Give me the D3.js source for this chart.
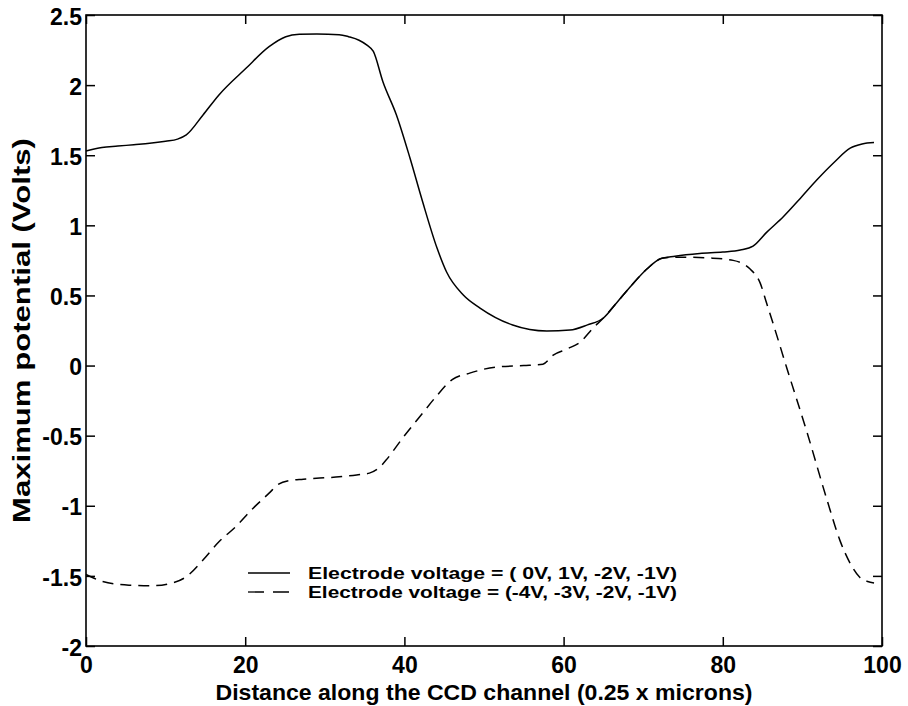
<!DOCTYPE html>
<html><head><meta charset="utf-8">
<script src="https://cdn.jsdelivr.net/npm/d3@7"></script>
<style>
body{margin:0;background:#fff;}
text{font-family:"Liberation Sans",Arial,sans-serif;font-weight:bold;fill:#000;}
</style></head>
<body><svg id="c" width="908" height="706"></svg>
<script>
const xTicks = [0,20,40,60,80,100];
const yTicks = [-2,-1.5,-1,-0.5,0,0.5,1,1.5,2,2.5];
const yTickLabels = ["-2","-1.5","-1","-0.5","0","0.5","1","1.5","2","2.5"];

const solidX = [0,2,4,6,8,10,11.5,12.6,14.7,16.7,20.1,23.0,25.1,26.8,29,31.8,33,34.3,35.3,36.1,37.3,39.0,40.7,42.3,44.1,45.3,47.4,49.5,53.6,57.9,60.8,63,65.0,66.7,68.5,70.5,72.1,74,77.1,80,82.2,83.8,85.5,87.6,89.7,91.8,94,96,97.5,99];
const solidV = [1.53,1.555,1.565,1.575,1.585,1.60,1.615,1.645,1.787,1.93,2.12,2.274,2.345,2.362,2.365,2.36,2.345,2.32,2.285,2.24,2.024,1.787,1.48,1.166,0.838,0.667,0.503,0.41,0.289,0.246,0.253,0.29,0.339,0.45,0.57,0.69,0.76,0.78,0.80,0.81,0.824,0.852,0.95,1.061,1.19,1.323,1.45,1.55,1.58,1.59];

const dashX = [0,2.1,5.4,8.4,10.9,12.6,14.7,16.7,18.8,21.0,23.0,24.2,25.5,27.3,31.4,34,35.6,36.8,37.7,40,42,44,46,48.2,51.6,55,57.4,58.7,60.5,62.1,63.7,65,66.7,68.5,70.5,72.5,75,78.4,81.3,83.4,84.7,85.5,86.3,88.0,90.6,93.1,94.7,96.0,97.2,98.2,99];
const dashV = [-1.49,-1.54,-1.566,-1.57,-1.55,-1.506,-1.387,-1.257,-1.15,-1.017,-0.91,-0.845,-0.82,-0.81,-0.795,-0.78,-0.767,-0.73,-0.674,-0.5,-0.36,-0.22,-0.1,-0.054,-0.01,0.0,0.01,0.075,0.12,0.168,0.267,0.339,0.45,0.57,0.69,0.767,0.773,0.767,0.75,0.69,0.588,0.446,0.303,-0.01,-0.48,-0.96,-1.245,-1.41,-1.51,-1.54,-1.55];

const legendLabels = ["Electrode voltage = ( 0V,  1V, -2V, -1V)","Electrode voltage = (-4V, -3V, -2V, -1V)"];
const xLabel = "Distance along the CCD channel (0.25 x microns)";
const yLabel = "Maximum potential (Volts)";

const svg = d3.select("#c");
const L=86, T=15, W=796, H=631;
const x = d3.scaleLinear().domain([0,100]).range([L,L+W]);
const y = d3.scaleLinear().domain([-2,2.5]).range([T+H,T]);
const g = svg.append("g");

function styleAxis(sel){
  sel.select(".domain").remove();
  sel.selectAll("line").attr("stroke","#000").attr("stroke-width",1.5);
}
g.append("g").attr("transform",`translate(0,${T+H})`)
 .call(d3.axisBottom(x).tickValues(xTicks).tickSize(-9).tickPadding(11).tickFormat(d3.format("d")))
 .call(styleAxis).selectAll("text").style("font-size","23px").attr("font-family",null);
g.append("g").attr("transform",`translate(0,${T})`)
 .call(d3.axisTop(x).tickValues(xTicks).tickSize(-9).tickFormat(""))
 .call(styleAxis);
g.append("g").attr("transform",`translate(${L},0)`)
 .call(d3.axisLeft(y).tickValues(yTicks).tickSize(-9).tickPadding(4).tickFormat((d,i)=>yTickLabels[i]))
 .call(styleAxis).selectAll("text").style("font-size","23px").attr("font-family",null).attr("dy","0.4em");
g.append("g").attr("transform",`translate(${L+W},0)`)
 .call(d3.axisRight(y).tickValues(yTicks).tickSize(-9).tickFormat(""))
 .call(styleAxis);
svg.selectAll(".tick text").attr("fill","#000");

g.append("rect").attr("x",L).attr("y",T).attr("width",W).attr("height",H)
 .attr("fill","none").attr("stroke","#000").attr("stroke-width",1.6);

const line = d3.line().x(d=>x(d[0])).y(d=>y(d[1])).curve(d3.curveMonotoneX);
g.append("path").datum(solidX.map((v,i)=>[v,solidV[i]])).attr("d",line)
 .attr("fill","none").attr("stroke","#000").attr("stroke-width",1.5);
g.append("path").datum(dashX.map((v,i)=>[v,dashV[i]])).attr("d",line)
 .attr("fill","none").attr("stroke","#000").attr("stroke-width",1.5).attr("stroke-dasharray","11,7");

// legend
const lg = g.append("g");
[0,1].forEach(i=>{
  const yy = 573 + i*19;
  lg.append("line").attr("x1",248).attr("x2",290).attr("y1",yy).attr("y2",yy)
    .attr("stroke","#000").attr("stroke-width",1.3).attr("stroke-dasharray", i? "16,9":null);
  lg.append("text").attr("x",308).attr("y",yy+6).text(legendLabels[i])
    .style("font-size","16px").attr("textLength",369).attr("lengthAdjust","spacingAndGlyphs");
});

svg.append("text").attr("x",L+W/2).attr("y",700).attr("text-anchor","middle")
 .style("font-size","22px").attr("textLength",537).attr("lengthAdjust","spacingAndGlyphs").text(xLabel);
svg.append("text").attr("transform",`translate(30,${T+H/2}) rotate(-90)`).attr("text-anchor","middle")
 .style("font-size","23px").attr("textLength",385).attr("lengthAdjust","spacingAndGlyphs").text(yLabel);
</script></body></html>
